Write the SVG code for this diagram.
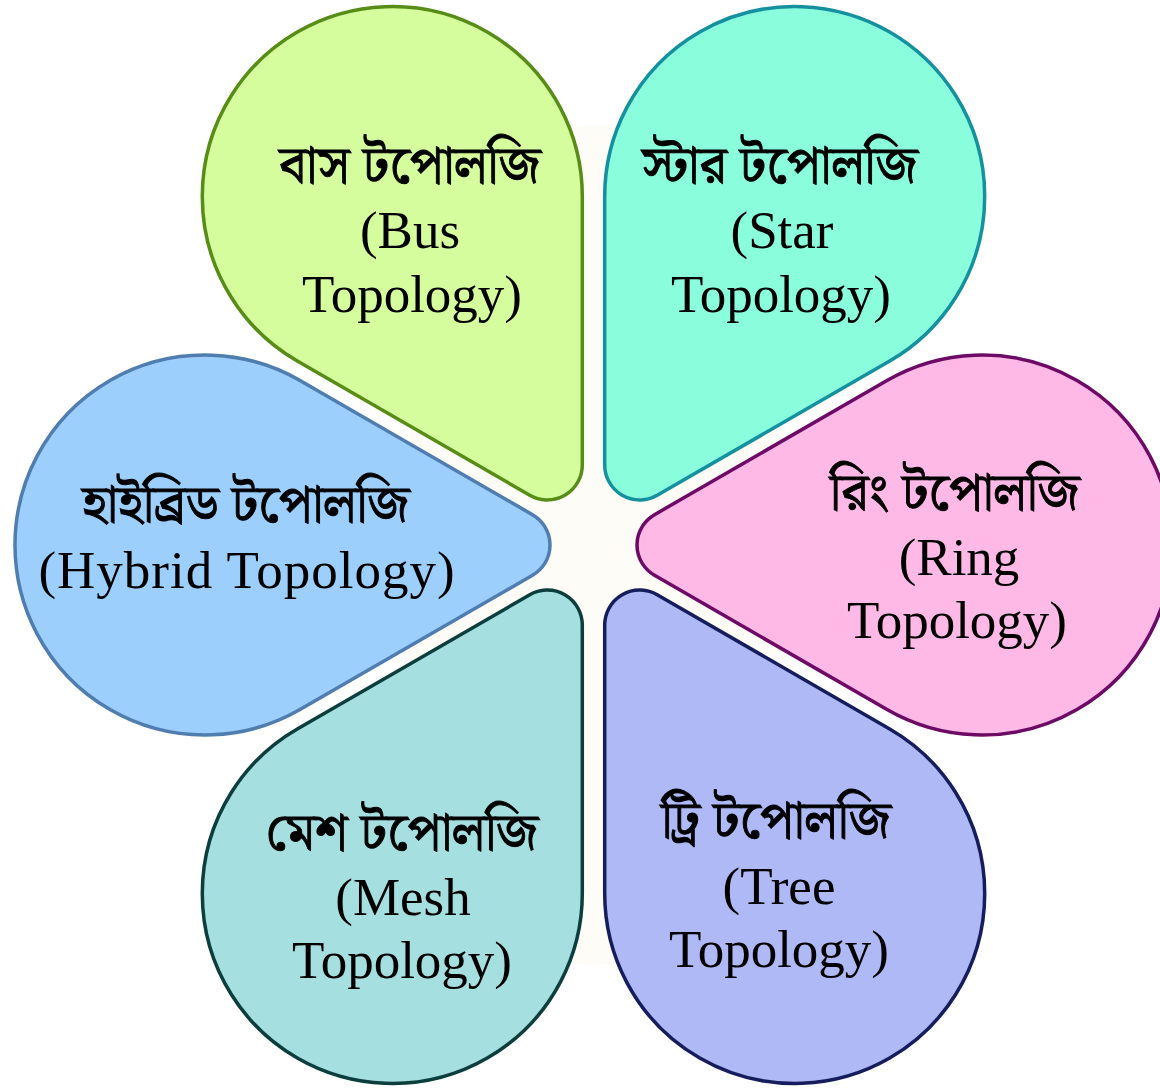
<svg xmlns="http://www.w3.org/2000/svg" width="1160" height="1088" viewBox="0 0 1160 1088">
  <style>
    .petal { stroke-width: 3.5; stroke-linejoin: round; }
    .lbl { font-family: "Liberation Serif", "Noto Serif Bengali", "Noto Sans Bengali", serif; font-size: 53px; fill: #000; text-anchor: middle; }
    .bn { stroke: #000; stroke-width: 0.9; }
  </style>
  <defs>
    <path id="drop" d="M 95 -164.545 L 327.5 -30.31 A 35 35 0 0 1 327.5 30.31 L 95 164.545 A 190 190 0 1 1 95 -164.545 Z"/>
  </defs>
  <rect width="1160" height="1088" fill="#ffffff"/>
  <ellipse cx="593.5" cy="545" rx="190" ry="420" fill="#fefcf7"/>

  <g id="bus">
    <use href="#drop" class="petal" transform="translate(392.3 196.5) rotate(60)" fill="#d5fd9e" stroke="#578c16"/>
    <text class="lbl bn" x="410" y="183">বাস টপোলজি</text>
    <text class="lbl" x="410" y="248">(Bus</text>
    <text class="lbl" x="412" y="312">Topology)</text>
  </g>
  <g id="star">
    <use href="#drop" class="petal" transform="translate(794.7 196.5) rotate(120)" fill="#8afddd" stroke="#14909e"/>
    <text class="lbl bn" x="780" y="183">স্টার টপোলজি</text>
    <text class="lbl" x="782" y="248">(Star</text>
    <text class="lbl" x="781" y="312">Topology)</text>
  </g>
  <g id="ring">
    <use href="#drop" class="petal" transform="translate(982 545) rotate(180)" fill="#feb9e6" stroke="#6c0a66"/>
    <text class="lbl bn" x="955" y="510">রিং টপোলজি</text>
    <text class="lbl" x="959" y="575">(Ring</text>
    <text class="lbl" x="957" y="638">Topology)</text>
  </g>
  <g id="tree">
    <use href="#drop" class="petal" transform="translate(794.7 893.5) rotate(240)" fill="#aeb9f5" stroke="#161d5c"/>
    <text class="lbl bn" x="776" y="838">ট্রি টপোলজি</text>
    <text class="lbl" x="779" y="904">(Tree</text>
    <text class="lbl" x="779" y="967">Topology)</text>
  </g>
  <g id="mesh">
    <use href="#drop" class="petal" transform="translate(392.3 893.5) rotate(300)" fill="#a6dfe0" stroke="#0b3e3d"/>
    <text class="lbl bn" x="402" y="850">মেশ টপোলজি</text>
    <text class="lbl" x="403" y="915">(Mesh</text>
    <text class="lbl" x="402" y="978">Topology)</text>
  </g>
  <g id="hybrid">
    <use href="#drop" class="petal" transform="translate(205 545) rotate(0)" fill="#9dcffd" stroke="#4f7db0"/>
    <text class="lbl bn" x="246" y="522">হাইব্রিড টপোলজি</text>
    <text class="lbl" x="247" y="588" letter-spacing="1">(Hybrid Topology)</text>
  </g>
  <g id="connectors"></g>
</svg>
